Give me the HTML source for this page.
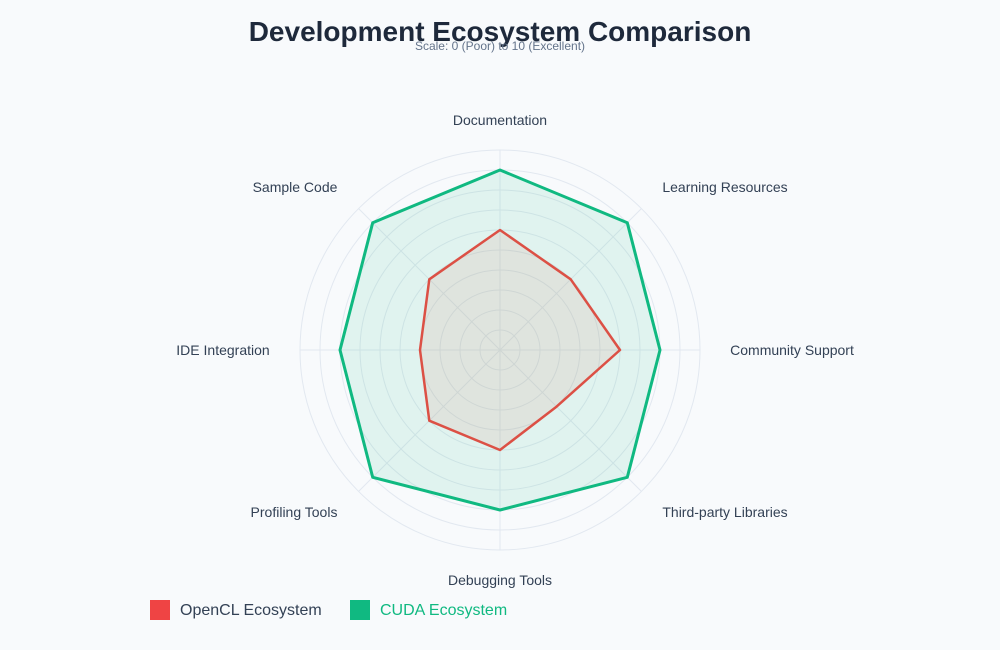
<!DOCTYPE html>
<html><head><meta charset="utf-8"><style>
body{margin:0;background:#f8fafc;font-family:"Liberation Sans",sans-serif;}
</style></head><body>
<svg width="1000" height="650" xmlns="http://www.w3.org/2000/svg" style="display:block">
<rect width="1000" height="650" fill="#f8fafc"/>
<text x="500" y="41" text-anchor="middle" font-size="28" font-weight="bold" fill="#1e293b">Development Ecosystem Comparison</text>
<text x="500" y="50" text-anchor="middle" font-size="12" fill="#64748b">Scale: 0 (Poor) to 10 (Excellent)</text>
<g fill="none" stroke="#e2e8f0" stroke-width="1">
<circle cx="500" cy="350" r="20"/><circle cx="500" cy="350" r="40"/><circle cx="500" cy="350" r="60"/><circle cx="500" cy="350" r="80"/><circle cx="500" cy="350" r="100"/><circle cx="500" cy="350" r="120"/><circle cx="500" cy="350" r="140"/><circle cx="500" cy="350" r="160"/><circle cx="500" cy="350" r="180"/><circle cx="500" cy="350" r="200"/>
<line x1="500" y1="150" x2="500" y2="550"/><line x1="300" y1="350" x2="700" y2="350"/>
<line x1="358.6" y1="208.6" x2="641.4" y2="491.4"/><line x1="641.4" y1="208.6" x2="358.6" y2="491.4"/>
</g>
<polygon points="500,170 627.3,222.7 660,350 627.3,477.3 500,510 372.7,477.3 340,350 372.7,222.7" fill="rgba(16,185,129,0.1)" stroke="#10b981" stroke-width="3" stroke-linejoin="round"/>
<polygon points="500,230 570.7,279.3 620,350 556.6,406.6 500,450 429.3,420.7 420,350 429.3,279.3" fill="rgba(220,120,100,0.12)" stroke="#dc5045" stroke-width="2.5" stroke-linejoin="round"/>
<g font-size="14" fill="#334155" text-anchor="middle">
<text x="500" y="125">Documentation</text>
<text x="725" y="192">Learning Resources</text>
<text x="792" y="355">Community Support</text>
<text x="725" y="517">Third-party Libraries</text>
<text x="500" y="585">Debugging Tools</text>
<text x="294" y="517">Profiling Tools</text>
<text x="223" y="355">IDE Integration</text>
<text x="295" y="192">Sample Code</text>
</g>
<rect x="150" y="600" width="20" height="20" fill="#ef4444"/>
<text x="180" y="615" font-size="16" fill="#334155">OpenCL Ecosystem</text>
<rect x="350" y="600" width="20" height="20" fill="#10b981"/>
<text x="380" y="615" font-size="16" fill="#10b981">CUDA Ecosystem</text>
</svg>
</body></html>
